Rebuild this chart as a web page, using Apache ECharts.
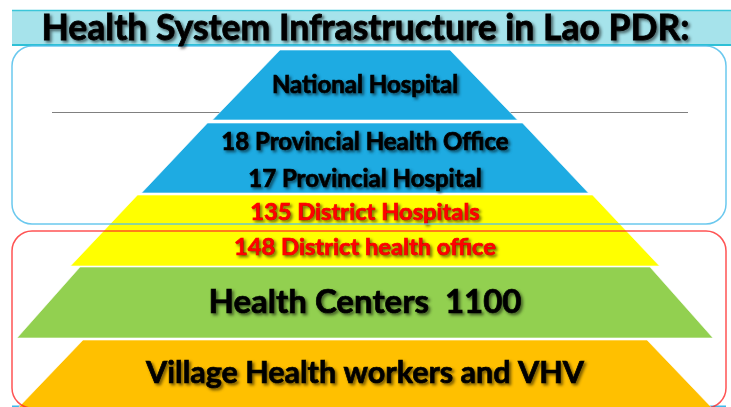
<!DOCTYPE html>
<html>
<head>
<meta charset="utf-8">
<title>Health System Infrastructure in Lao PDR</title>
<script src="https://cdn.jsdelivr.net/npm/echarts@6/dist/echarts.min.js"></script>
<style>
  html, body { margin: 0; padding: 0; background: #fff; }
  #main { width: 731px; height: 407px; }
</style>
</head>
<body>
<div id="main"></div>
<script>
// pyramid levels, top to bottom (in chart units)
var layerTop = [50, 123, 195, 267, 340];
var layerBottom = [120, 193, 266, 338, 410];
var topWidth = [170, 315, 455, 570, 564];
var bottomWidth = [305, 447, 589, 696, 698];
var layerLabels = [
  ['National Hospital'],
  ['18 Provincial Health Office', '17 Provincial Hospital'],
  ['135 District Hospitals', '148 District health office'],
  ['Health Centers  1100'],
  ['Village Health workers and VHV']
];

// styles
var layerColors = ['#1eabe2', '#1eabe2', '#ffff00', '#92d050', '#ffc000'];
var labelColors = ['#000', '#000', '#ff0000', '#000', '#000'];
var labelSizes = [24, 24, 23.7, 33, 30.5];
// where each label sits inside its level (0 = top edge, 1 = bottom edge)
var labelPos = [[0.5], [0.27, 0.8], [0.25, 0.74], [0.5], [0.48]];
var centerX = 365;
var fontFamily = 'Lato, "Open Sans", sans-serif';

var chartDom = document.getElementById('main');
var myChart = echarts.init(chartDom);

var seriesData = [];
for (var i = 0; i < layerTop.length; i++) {
  seriesData.push([layerTop[i], layerBottom[i], topWidth[i], bottomWidth[i], i]);
}

function renderLayer(params, api) {
  var y0 = api.value(0);
  var y1 = api.value(1);
  var w0 = api.value(2);
  var w1 = api.value(3);
  var idx = api.value(4);
  var pts = [
    api.coord([centerX - w0 / 2, y0]),
    api.coord([centerX + w0 / 2, y0]),
    api.coord([centerX + w1 / 2, y1]),
    api.coord([centerX - w1 / 2, y1])
  ];
  var children = [{
    type: 'polygon',
    shape: { points: pts },
    style: { fill: layerColors[idx], stroke: 'rgba(255,255,255,0.6)', lineWidth: 1 }
  }];
  var labels = layerLabels[idx];
  for (var k = 0; k < labels.length; k++) {
    var ly = y0 + (y1 - y0) * labelPos[idx][k];
    var p = api.coord([centerX, ly]);
    children.push({
      type: 'text',
      style: {
        text: labels[k],
        x: p[0],
        y: p[1],
        align: 'center',
        verticalAlign: 'middle',
        fill: labelColors[idx],
        font: 'bold ' + labelSizes[idx] + 'px ' + fontFamily,
        stroke: labelColors[idx],
        lineWidth: 0.7,
        textShadowColor: 'rgba(0,0,0,0.5)',
        textShadowBlur: 3,
        textShadowOffsetX: 2,
        textShadowOffsetY: 2
      }
    });
  }
  return { type: 'group', children: children };
}

myChart.setOption({
  animation: false,
  title: {
    text: 'Health System Infrastructure in Lao PDR:',
    left: 'center',
    top: 6,
    textStyle: {
      fontFamily: fontFamily,
      fontWeight: 'bold',
      fontSize: 35.5,
      color: '#000',
      textBorderColor: '#000',
      textBorderWidth: 0.8,
      textShadowColor: 'rgba(0,0,0,0.5)',
      textShadowBlur: 3,
      textShadowOffsetX: 2,
      textShadowOffsetY: 2
    },
    z: 20
  },
  grid: { left: 0, right: 0, top: 0, bottom: 0 },
  xAxis: { type: 'value', min: 0, max: 731, show: false },
  yAxis: { type: 'value', min: 0, max: 407, inverse: true, show: false },
  graphic: [
    // title band
    { type: 'rect', shape: { x: 12, y: 10, width: 719, height: 35 }, style: { fill: '#a6e3eb' }, z: 0 },
    { type: 'line', shape: { x1: 12, y1: 10.5, x2: 731, y2: 10.5 }, style: { stroke: '#3cc6d9', lineWidth: 1.5 }, z: 1 },
    { type: 'line', shape: { x1: 12, y1: 45, x2: 731, y2: 45 }, style: { stroke: '#2ec0d6', lineWidth: 2 }, z: 1 },
    // gray divider behind the top level
    { type: 'line', shape: { x1: 52, y1: 112.5, x2: 688, y2: 112.5 }, style: { stroke: '#808080', lineWidth: 1 }, z: 0 },
    // bottom blue edge
    { type: 'line', shape: { x1: 12, y1: 406.5, x2: 726, y2: 406.5 }, style: { stroke: '#3fb8ec', lineWidth: 2 }, z: 0 },
    // frames on top
    { type: 'rect', shape: { x: 12, y: 46, width: 714, height: 178, r: 20 }, style: { fill: null, stroke: 'rgba(80,190,235,0.85)', lineWidth: 1.5 }, z: 10 },
    { type: 'rect', shape: { x: 12, y: 231, width: 714, height: 177, r: 20 }, style: { fill: null, stroke: 'rgba(255,40,40,0.8)', lineWidth: 1.5 }, z: 10 }
  ],
  series: [
    {
      type: 'custom',
      coordinateSystem: 'cartesian2d',
      renderItem: renderLayer,
      data: seriesData,
      silent: true,
      z: 5
    }
  ]
});

window.onresize = function () { myChart.resize(); };
</script>
</body>
</html>
